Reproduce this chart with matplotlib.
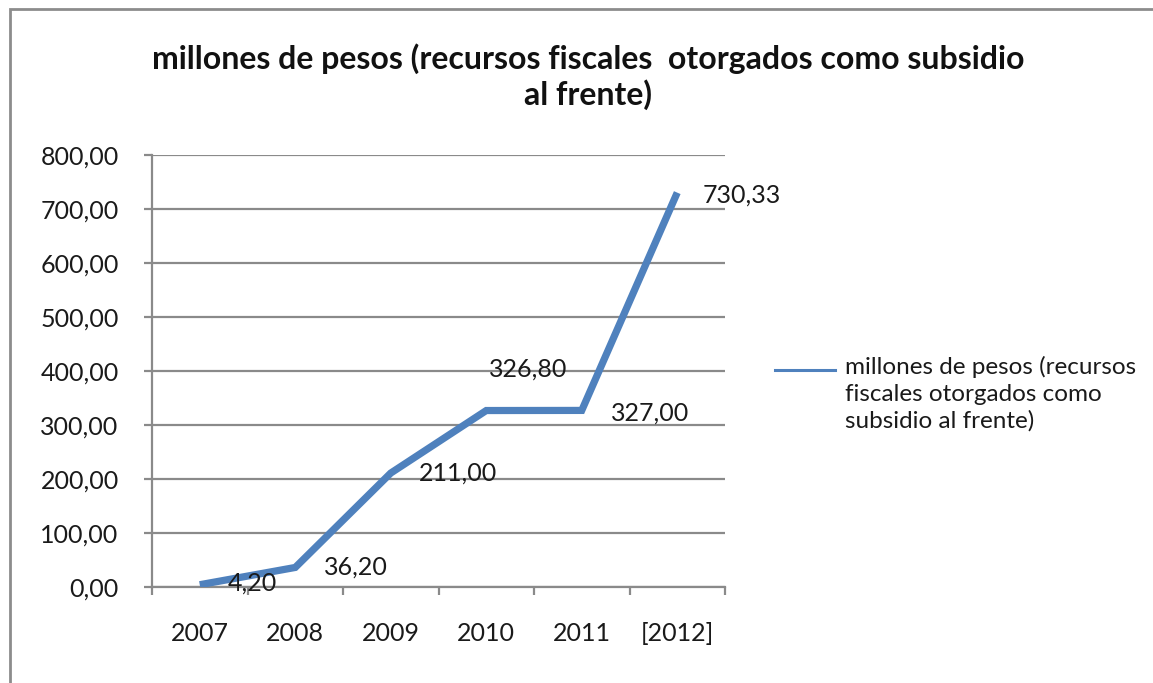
import matplotlib
matplotlib.use("Agg")
import matplotlib.pyplot as plt
from matplotlib.lines import Line2D
from matplotlib.patches import Rectangle
from matplotlib.ticker import FuncFormatter, FixedLocator

# Datos del gráfico
years = ["2007", "2008", "2009", "2010", "2011", "[2012]"]
values = [4.20, 36.20, 211.00, 326.80, 327.00, 730.33]
value_labels = ["4,20", "36,20", "211,00", "326,80", "327,00", "730,33"]

title = "millones de pesos (recursos fiscales  otorgados como subsidio\nal frente)"
legend_text = "millones de pesos (recursos\nfiscales otorgados como\nsubsidio al frente)"

plt.rcParams["font.family"] = ["Lato", "DejaVu Sans"]

W, H = 1153, 683
fig = plt.figure(figsize=(W / 100, H / 100), dpi=100)
fig.patch.set_facecolor("white")

# marco del gráfico (se sale por la derecha y abajo)
fig.add_artist(Rectangle((10 / W, -0.2), 1.2, 1.2 - 9 / H,
                         transform=fig.transFigure, fill=False,
                         edgecolor="#8c8c8c", linewidth=2))

ax = fig.add_axes([152 / W, 1 - 587 / H, (725 - 152) / W, (587 - 155) / H])

grid_color = "#8a8a8a"
blue = "#4F81BD"
text_color = "#1a1a1a"

x = list(range(len(years)))
ax.plot(x, values, color=blue, linewidth=5.2, solid_joinstyle="miter",
        solid_capstyle="butt", zorder=3)

ax.set_xlim(-0.5, len(years) - 0.5)
ax.set_ylim(0, 800)

ax.set_yticks(range(0, 801, 100))
ax.yaxis.set_major_formatter(FuncFormatter(lambda v, p: f"{v:.2f}".replace(".", ",")))
ax.grid(axis="y", color=grid_color, linewidth=1.6)
ax.set_axisbelow(True)

# marcas entre categorías, etiquetas en el centro
ax.xaxis.set_major_locator(FixedLocator([i - 0.5 for i in range(len(years) + 1)]))
ax.xaxis.set_major_formatter(FuncFormatter(lambda v, p: ""))
ax.set_xticks(x, years, minor=True)
ax.tick_params(axis="x", which="minor", length=0, pad=25, labelsize=18,
               labelcolor=text_color)
ax.tick_params(axis="x", which="major", length=6, width=1.6, color=grid_color)
ax.tick_params(axis="y", length=6, width=1.6, color=grid_color, pad=18,
               labelsize=18, labelcolor=text_color)

for side in ["top", "right"]:
    ax.spines[side].set_visible(False)
for side in ["left", "bottom"]:
    ax.spines[side].set_color(grid_color)
    ax.spines[side].set_linewidth(1.6)

# etiquetas de datos
offsets = [(20, 1), (21, 0), (20, 0), (2, 30), (21, -2), (18, -2)]
for xi, v, lab, off in zip(x, values, value_labels, offsets):
    ax.annotate(lab, (xi, v), xytext=off, textcoords="offset points",
                ha="left", va="center", fontsize=18, color=text_color, zorder=4)

fig.text(588 / W, 1 - 77 / H, title, ha="center", va="center",
         fontsize=23, fontweight="bold", color="#111111", linespacing=1.2)

# leyenda
fig.add_artist(Line2D([775 / W, 835 / W], [1 - 370 / H, 1 - 370 / H],
                      transform=fig.transFigure, color=blue, linewidth=2.2))
fig.text(845 / W, 1 - 356 / H, legend_text, ha="left", va="top",
         fontsize=17.5, color=text_color, linespacing=1.33)

fig.savefig("out.png", dpi=100)
